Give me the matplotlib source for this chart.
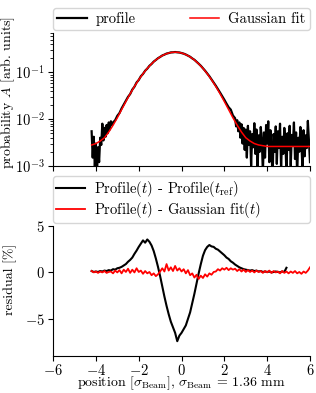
import numpy as np
import matplotlib
matplotlib.use("Agg")
import matplotlib.pyplot as plt

plt.rcParams['font.family'] = ['cmr10', 'DejaVu Serif']
plt.rcParams['mathtext.fontset'] = 'cm'
plt.rcParams['axes.formatter.use_mathtext'] = True
plt.rcParams['axes.unicode_minus'] = True
plt.rcParams['font.size'] = 10.5
plt.rcParams['axes.labelsize'] = 10
plt.rcParams['xtick.major.pad'] = 1.2
plt.rcParams['ytick.major.pad'] = 2.5

profile_x = np.concatenate([
    np.linspace(-4.2, -3.25, 20),
    np.linspace(-3.2, 2.5, 58),
    np.linspace(2.55, 6.0, 70),
])
profile = [
    # left tail
    0.0055, 0.0015, 0.0042, 0.0009, 0.0030, 0.0007, 0.0025, 0.0012, 0.0040, 0.0028,
    0.0080, 0.0035, 0.0065, 0.0042, 0.0075, 0.0050, 0.0085, 0.0060, 0.0090, 0.0075,
    # core
    0.0085, 0.0095, 0.0118, 0.0135, 0.0170, 0.0205, 0.0245, 0.0300, 0.0345, 0.0430,
    0.0495, 0.0610, 0.0690, 0.0830, 0.0930, 0.1090, 0.1210, 0.1390, 0.1520, 0.1710,
    0.1850, 0.2020, 0.2150, 0.2310, 0.2410, 0.2540, 0.2600, 0.2690, 0.2700, 0.2740,
    0.2700, 0.2680, 0.2600, 0.2530, 0.2420, 0.2290, 0.2170, 0.2000, 0.1870, 0.1700,
    0.1540, 0.1390, 0.1230, 0.1090, 0.0950, 0.0830, 0.0710, 0.0610, 0.0520, 0.0440,
    0.0370, 0.0310, 0.0260, 0.0215, 0.0180, 0.0160, 0.0120, 0.0105,
    # right tail
    0.0070, 0.0095, 0.0055, 0.0085, 0.0040, 0.0078, 0.0030, 0.0065, 0.0022, 0.0060,
    0.0015, 0.0072, 0.0028, 0.0055, 0.0010, 0.0048, 0.0025, 0.0082, 0.0018, 0.0060,
    0.0008, 0.0045, 0.0020, 0.0068, 0.0035, 0.0007, 0.0052, 0.0015, 0.0075, 0.0030,
    0.0090, 0.0012, 0.0058, 0.0026, 0.0005, 0.0048, 0.0020, 0.0070, 0.0011, 0.0055,
    0.0024, 0.0080, 0.0009, 0.0042, 0.0018, 0.0065, 0.0032, 0.0007, 0.0050, 0.0022,
    0.0072, 0.0010, 0.0046, 0.0028, 0.0085, 0.0014, 0.0052, 0.0006, 0.0040, 0.0020,
    0.0068, 0.0030, 0.0008, 0.0058, 0.0016, 0.0045, 0.0024, 0.0092, 0.0035, 0.0012,
]

# gaussian fit (step 0.2 sigma)
fit_x = np.linspace(-4.2, 6.0, 52)
fit = [
    0.0028, 0.0030, 0.0034, 0.0040, 0.0053, 0.0074, 0.0107, 0.0160, 0.0238, 0.0350,
    0.0502, 0.0699, 0.0941, 0.1224, 0.1536, 0.1856, 0.2159, 0.2421, 0.2613, 0.2713,
    0.2713, 0.2613, 0.2421, 0.2159, 0.1856, 0.1536, 0.1224, 0.0941, 0.0699, 0.0502,
    0.0350, 0.0238, 0.0160, 0.0107, 0.0074, 0.0053, 0.0040, 0.0034, 0.0030, 0.0028,
    0.0027, 0.0026, 0.0026, 0.0026, 0.0026, 0.0026, 0.0026, 0.0026, 0.0026, 0.0026,
    0.0026, 0.0026,
]

# residuals in percent (step 0.1 sigma)
res_ref_x = np.linspace(-4.2, 4.9, 92)
res_ref = [
    0.15, 0.05, 0.10, 0.05, 0.15, 0.10, 0.20, 0.15, 0.25, 0.20,
    0.35, 0.30, 0.45, 0.50, 0.60, 0.75, 0.90, 1.15, 1.35, 1.60,
    2.00, 2.35, 2.75, 3.10, 3.45, 3.20, 3.55, 3.30, 2.90, 2.30,
    1.50, 0.60, -0.40, -1.50, -2.60, -3.60, -4.50, -5.30, -5.90, -6.50,
    -7.40, -6.80, -6.50, -6.10, -5.70, -5.00, -4.30, -3.30, -2.30, -1.20,
    -0.10, 0.90, 1.80, 2.40, 2.75, 2.95, 2.80, 2.75, 2.55, 2.45,
    2.25, 2.05, 1.85, 1.60, 1.45, 1.20, 1.05, 0.85, 0.70, 0.55,
    0.45, 0.35, 0.30, 0.25, 0.20, 0.25, 0.15, 0.20, 0.10, 0.15,
    0.05, 0.10, 0.05, 0.10, 0.00, 0.05, 0.10, 0.05, 0.00, 0.10,
    0.05, 0.50,
]

res_fit_x = np.linspace(-4.2, 6.0, 103)
res_fit = [
    0.15, 0.00, 0.10, -0.05, 0.10, 0.00, 0.15, -0.05, 0.05, 0.10,
    -0.10, 0.20, 0.00, 0.25, -0.10, 0.30, 0.05, 0.40, -0.05, 0.30,
    0.00, 0.45, 0.05, 0.20, -0.15, 0.15, -0.10, 0.05, -0.30, -0.10,
    -0.40, -0.20, 0.10, 0.45, 0.10, 0.90, 0.20, 0.55, 0.15, 0.70,
    0.20, 0.45, 0.10, 0.35, -0.10, 0.25, -0.30, -0.10, -0.55, -0.25,
    -0.70, -0.35, -0.60, -0.20, -0.45, -0.10, -0.25, 0.05, 0.10, 0.35,
    0.20, 0.45, 0.30, 0.50, 0.25, 0.45, 0.30, 0.40, 0.15, 0.35,
    0.10, 0.30, 0.05, 0.25, 0.05, 0.20, 0.00, 0.20, 0.05, 0.15,
    -0.05, 0.15, 0.00, 0.20, -0.05, 0.15, 0.00, 0.10, -0.10, 0.15,
    -0.05, 0.10, -0.10, 0.10, -0.05, 0.15, -0.10, 0.05, -0.15, 0.10,
    -0.05, 0.20, 0.55,
]

fig = plt.figure(figsize=(3.16, 3.93), dpi=100)
ax1 = fig.add_axes([0.168, 0.578, 0.813, 0.338])
ax2 = fig.add_axes([0.168, 0.094, 0.813, 0.331])

leg_kw = dict(loc="lower left", bbox_to_anchor=(0, 1.02, 1, 0.2), mode="expand",
              borderaxespad=0, handlelength=2.0, handletextpad=0.6)

ax1.plot(profile_x, profile, color="black", lw=1.6, label="profile")
ax1.plot(fit_x, fit, color="red", lw=1.1, label="Gaussian fit")
ax1.set_yscale("log")
ax1.set_ylim(1e-3, 0.7)
ax1.set_xlim(-6, 6)
ax1.set_xticks([-6, -4, -2, 0, 2, 4, 6])
ax1.set_xticklabels([])
ax1.set_ylabel("probability $A$ [arb. units]")
ax1.yaxis.set_label_coords(-0.14, 0.55)
ax1.legend(ncol=2, borderpad=0.3, **leg_kw)

ax2.plot(res_ref_x, res_ref, color="black", lw=1.5,
         label=r"Profile($t$) - Profile($t_\mathrm{ref}$)")
ax2.plot(res_fit_x, res_fit, color="red", lw=1.3,
         label=r"Profile($t$) - Gaussian fit($t$)")
ax2.set_xlim(-6, 6)
ax2.set_ylim(-9, 5)
ax2.set_xticks([-6, -4, -2, 0, 2, 4, 6])
ax2.set_yticks([-5, 0, 5])
ax2.set_ylabel("residual [%]")
ax2.yaxis.set_label_coords(-0.14, 0.59)
ax2.set_xlabel(r"position [$\sigma_\mathrm{Beam}$], $\sigma_\mathrm{Beam}$ = 1.36 mm",
               va="bottom")
ax2.xaxis.set_label_coords(0.5, -0.273)
ax2.legend(ncol=1, borderpad=0.2, labelspacing=0.1, **leg_kw)

for ax in (ax1, ax2):
    ax.spines["top"].set_visible(False)
    ax.spines["right"].set_visible(False)

fig.savefig("out.png", dpi=100)
